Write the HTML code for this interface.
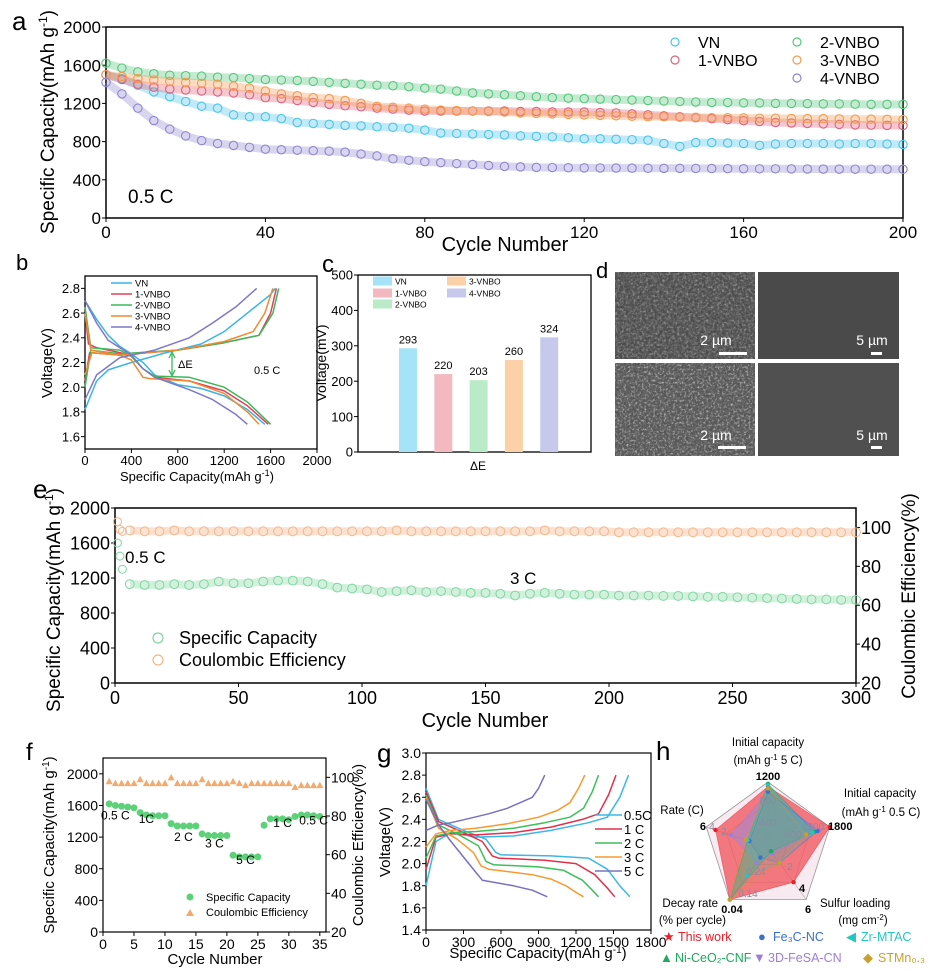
<!DOCTYPE html>
<html><head><meta charset="utf-8">
<style>
html,body{margin:0;padding:0;background:#fff;}
svg{display:block;font-family:"Liberation Sans",Arial,sans-serif;}
</style></head>
<body>
<svg id="fig" width="938" height="972" viewBox="0 0 938 972" xmlns="http://www.w3.org/2000/svg">
<defs>
<filter id="sem1" x="0" y="0" width="100%" height="100%"><feTurbulence type="fractalNoise" baseFrequency="0.35" numOctaves="3" seed="3"/><feColorMatrix type="matrix" values="0 0 0 0 0.2  0 0 0 0 0.2  0 0 0 0 0.2  0 0 0 1.6 -0.55"/></filter>
<filter id="sem2" x="0" y="0" width="100%" height="100%"><feTurbulence type="fractalNoise" baseFrequency="0.45" numOctaves="3" seed="7"/><feColorMatrix type="matrix" values="0 0 0 0 0.75  0 0 0 0 0.75  0 0 0 0 0.75  0 0 0 2.2 -1.1"/></filter>
</defs>

<!-- Panel a -->
<g>
<text x="12" y="30" font-size="26">a</text>
<rect x="106" y="27" width="797" height="191" fill="none" stroke="#000" stroke-width="1.5"/>
<g id="a-ticks"></g>
<text x="505" y="251" font-size="20" text-anchor="middle">Cycle Number</text>
<text transform="translate(54,122) rotate(-90)" font-size="19" text-anchor="middle">Specific Capacity(mAh g<tspan font-size="12" dy="-7">-1</tspan><tspan dy="7">)</tspan></text>
<text x="128" y="203" font-size="19">0.5 C</text>
<g id="a-series"></g>
<g id="a-legend"></g>
</g>

<!-- Panel b -->
<g>
<text x="16" y="270" font-size="22">b</text>
<rect x="85" y="276" width="232" height="173" fill="none" stroke="#000" stroke-width="1.3"/>
<g id="b-ticks"></g>
<g id="b-series"></g>
<g id="b-legend"></g>
<text x="197" y="481" font-size="13" text-anchor="middle">Specific Capacity(mAh g<tspan font-size="9" dy="-5">-1</tspan><tspan dy="5">)</tspan></text>
<text transform="translate(52,363) rotate(-90)" font-size="15" text-anchor="middle">Voltage(V)</text>
<line x1="172" y1="354" x2="172" y2="374" stroke="#3cb85a" stroke-width="1.3"/>
<path d="M169,358 L172,352 L175,358 M169,370 L172,376 L175,370" fill="none" stroke="#3cb85a" stroke-width="1.3"/>
<text x="178" y="368" font-size="11">ΔE</text>
<text x="254" y="374" font-size="11">0.5 C</text>
</g>

<!-- Panel c -->
<g>
<text x="322" y="272" font-size="24">c</text>
<rect x="358" y="275" width="233" height="177" fill="none" stroke="#000" stroke-width="1.3"/>
<g id="c-ticks"></g>
<g id="c-bars"></g>
<g id="c-legend"></g>
<text transform="translate(326,363) rotate(-90)" font-size="14" text-anchor="middle">Voltage(mV)</text>
<text x="478" y="470" font-size="12" text-anchor="middle">ΔE</text>
</g>

<!-- Panel d -->
<g>
<text x="596" y="278" font-size="22">d</text>
<rect x="615" y="272" width="140" height="87" fill="#4b4b4b"/>
<rect x="615" y="272" width="140" height="87" filter="url(#sem1)" opacity="0.9"/>
<rect x="615" y="272" width="140" height="87" filter="url(#sem2)" opacity="0.55"/>
<rect x="758" y="272" width="141" height="87" fill="#4a4a4a"/>
<rect x="615" y="363" width="140" height="93" fill="#555"/>
<rect x="615" y="363" width="140" height="93" filter="url(#sem1)" opacity="0.8"/>
<rect x="615" y="363" width="140" height="93" filter="url(#sem2)" opacity="0.85"/>
<rect x="758" y="363" width="141" height="93" fill="#505050"/>
<text x="716" y="345" font-size="14" fill="#fff" text-anchor="middle">2 µm</text>
<rect x="719" y="352" width="28" height="3" fill="#fff"/>
<text x="872" y="345" font-size="14" fill="#fff" text-anchor="middle">5 µm</text>
<rect x="871" y="352" width="11" height="3" fill="#fff"/>
<text x="716" y="440" font-size="14" fill="#fff" text-anchor="middle">2 µm</text>
<rect x="718" y="446" width="28" height="3" fill="#fff"/>
<text x="872" y="440" font-size="14" fill="#fff" text-anchor="middle">5 µm</text>
<rect x="871" y="446" width="11" height="3" fill="#fff"/>
</g>

<!-- Panel e -->
<g>
<text x="33" y="498" font-size="26">e</text>
<rect x="115" y="508" width="741" height="175" fill="none" stroke="#000" stroke-width="1.5"/>
<g id="e-ticks"></g>
<g id="e-series"></g>
<text x="485" y="727" font-size="20" text-anchor="middle">Cycle Number</text>
<text transform="translate(60,600) rotate(-90)" font-size="19" text-anchor="middle">Specific Capacity(mAh g<tspan font-size="12" dy="-7">-1</tspan><tspan dy="7">)</tspan></text>
<text transform="translate(915,596) rotate(-90)" font-size="19" text-anchor="middle">Coulombic Efficiency(%)</text>
<text x="125" y="563" font-size="17">0.5 C</text>
<text x="510" y="584" font-size="17">3 C</text>
<circle cx="158" cy="638" r="5" fill="none" stroke="#7fd6a0" stroke-width="1.2"/>
<text x="179" y="644" font-size="18">Specific Capacity</text>
<circle cx="158" cy="660" r="5" fill="none" stroke="#f5b58a" stroke-width="1.2"/>
<text x="179" y="666" font-size="18">Coulombic Efficiency</text>
</g>

<!-- Panel f -->
<g>
<text x="26" y="760" font-size="24">f</text>
<rect x="103" y="758" width="223" height="174" fill="none" stroke="#000" stroke-width="1.2"/>
<g id="f-ticks"></g>
<g id="f-series"></g>
<text x="215" y="964" font-size="15" text-anchor="middle">Cycle Number</text>
<text transform="translate(54,845) rotate(-90)" font-size="15" text-anchor="middle">Specific Capacity(mAh g<tspan font-size="10" dy="-5">-1</tspan><tspan dy="5">)</tspan></text>
<text transform="translate(363,845) rotate(-90)" font-size="15" text-anchor="middle">Coulombic Efficiency(%)</text>
<circle cx="190" cy="897" r="3.5" fill="#5fd07a"/>
<text x="206" y="901" font-size="11">Specific Capacity</text>
<path d="M186,916 L190,909 L194,916 Z" fill="#f4a96d"/>
<text x="206" y="916" font-size="11">Coulombic Efficiency</text>
</g>

<!-- Panel g -->
<g>
<text x="377" y="762" font-size="26">g</text>
<rect x="426" y="753" width="225" height="177" fill="none" stroke="#000" stroke-width="1.2"/>
<g id="g-ticks"></g>
<g id="g-series"></g>
<g id="g-legend"></g>
<text x="538" y="958" font-size="15" text-anchor="middle">Specific Capacity(mAh g<tspan font-size="10" dy="-5">-1</tspan><tspan dy="5">)</tspan></text>
<text transform="translate(390,842) rotate(-90)" font-size="15" text-anchor="middle">Voltage(V)</text>
</g>

<!-- Panel h -->
<g>
<text x="656" y="760" font-size="26">h</text>
<g id="h-radar"></g>
<text x="768" y="746" font-size="11.5" text-anchor="middle">Initial capacity</text>
<text x="768" y="764" font-size="11.5" text-anchor="middle">(mAh g<tspan font-size="8" dy="-4">-1</tspan><tspan dy="4"> 5 C)</tspan></text>
<text x="880" y="797" font-size="11.5" text-anchor="middle">Initial capacity</text>
<text x="881" y="816" font-size="11.5" text-anchor="middle">(mAh g<tspan font-size="8" dy="-4">-1</tspan><tspan dy="4"> 0.5 C)</tspan></text>
<text x="682" y="814" font-size="11.5" text-anchor="middle">Rate (C)</text>
<text x="718" y="907" font-size="11.5" text-anchor="end">Decay rate</text>
<text x="726" y="924" font-size="11.5" text-anchor="end">(% per cycle)</text>
<text x="820" y="907" font-size="11.5">Sulfur loading</text>
<text x="863" y="924" font-size="11.5" text-anchor="middle">(mg cm<tspan font-size="8" dy="-4">-2</tspan><tspan dy="4">)</tspan></text>
<g id="h-legend"></g>
</g>
</svg>

<script>
// ---------- DATA ----------
const aStep = 4;
const aVN   = [1500,1460,1390,1320,1270,1220,1170,1150,1080,1060,1060,1040,1000,990,980,970,965,955,950,940,920,890,885,880,875,870,860,855,850,840,830,830,825,820,815,780,750,790,790,785,780,760,775,780,780,780,775,780,780,775,770];
const a1VNBO= [1500,1450,1400,1370,1350,1340,1330,1320,1310,1290,1260,1250,1230,1210,1190,1175,1165,1150,1140,1130,1120,1120,1120,1120,1120,1120,1115,1115,1110,1110,1110,1105,1100,1090,1080,1070,1060,1050,1040,1030,1020,1010,1000,995,990,985,980,975,972,970,968];
const a2VNBO= [1620,1570,1530,1510,1495,1490,1485,1475,1470,1460,1450,1445,1440,1430,1420,1410,1400,1390,1385,1375,1360,1350,1330,1310,1300,1290,1280,1270,1260,1255,1250,1245,1240,1235,1230,1225,1220,1215,1210,1210,1205,1205,1200,1200,1198,1195,1195,1192,1190,1190,1190];
const a3VNBO= [1500,1480,1460,1445,1430,1420,1410,1400,1380,1360,1330,1300,1280,1260,1250,1230,1200,1170,1160,1150,1140,1130,1125,1120,1115,1110,1100,1095,1090,1085,1080,1075,1070,1065,1060,1060,1055,1055,1050,1050,1048,1045,1045,1042,1040,1040,1038,1035,1035,1033,1030];
const a4VNBO= [1420,1300,1150,1020,930,860,810,780,760,740,720,715,710,705,700,690,670,650,620,605,590,580,570,560,550,540,535,530,528,526,525,524,523,522,521,520,520,519,518,517,516,515,515,514,513,512,512,511,511,510,510];
const aNames = ["VN","1-VNBO","2-VNBO","3-VNBO","4-VNBO"];
const aXTicks = [0,40,80,120,160,200];
const aYTicks = [0,400,800,1200,1600,2000];

const bNames = ["VN","1-VNBO","2-VNBO","3-VNBO","4-VNBO"];
const bDisCap = [[0,100,200,300,400,500,600,800,1000,1200,1400,1550],[0,30,100,300,400,500,600,900,1200,1400,1580],[0,50,300,400,500,600,900,1200,1400,1600],[0,50,300,400,500,560,900,1200,1400,1500],[0,100,200,400,500,600,900,1100,1300,1400]];
const bDisV   = [[2.7,2.55,2.42,2.33,2.27,2.2,2.1,2.02,1.99,1.93,1.82,1.7],[2.6,2.35,2.32,2.28,2.25,2.15,2.08,2.05,1.97,1.85,1.7],[2.65,2.32,2.3,2.25,2.15,2.09,2.08,2.0,1.88,1.7],[2.6,2.3,2.26,2.22,2.08,2.07,2.05,1.95,1.8,1.7],[2.7,2.52,2.38,2.26,2.15,2.08,1.98,1.9,1.78,1.7]];
const bChCap  = [[0,100,200,400,700,1000,1200,1400,1600,1640],[0,40,300,800,1200,1500,1600,1650],[0,50,300,800,1200,1500,1620,1670],[0,60,300,800,1200,1450,1550,1620],[0,100,300,600,900,1100,1300,1480]];
const bChV    = [[1.82,2.05,2.14,2.2,2.28,2.35,2.45,2.6,2.75,2.8],[2.05,2.28,2.26,2.3,2.36,2.42,2.6,2.8],[2.0,2.3,2.27,2.3,2.36,2.42,2.6,2.8],[2.1,2.28,2.26,2.3,2.37,2.45,2.6,2.8],[1.9,2.1,2.24,2.3,2.4,2.52,2.65,2.8]];
const bXTicks = [0,400,800,1200,1600,2000];
const bYTicks = [1.6,1.8,2.0,2.2,2.4,2.6,2.8];

const cCats = ["VN","1-VNBO","2-VNBO","3-VNBO","4-VNBO"];
const cVals = [293,220,203,260,324];
const cYTicks = [0,100,200,300,400,500];

const eEarlyCyc = [1,2,3];
const eEarlyCap = [1600,1450,1300];
const eStep = 6;
const eCap = [1130,1120,1120,1130,1120,1130,1160,1140,1140,1160,1170,1170,1160,1130,1090,1080,1070,1040,1050,1060,1040,1050,1040,1030,1030,1020,1000,1020,1030,1020,1010,1010,1010,1000,1000,1000,995,995,990,985,985,980,975,970,965,960,955,955,950,950];
const eCE  = [98.5,98,98,98.5,98,98,98,98,98,98,98,98,98,98,98,98,98,98,98.5,98,98,98,98,98,98,98,98,98,98.5,98,98,98,98,97.5,97.5,97.5,97.5,97.5,97.5,97.5,97.5,97.5,97.5,97.5,97.5,97.5,97.5,97.5,97.5,97.5];
const eCEEarly = [103,99,98];
const eXTicks = [0,50,100,150,200,250,300];
const eYTicks = [0,400,800,1200,1600,2000];
const eY2Ticks = [20,40,60,80,100];

const fCap = [1620,1600,1590,1580,1570,1510,1480,1470,1470,1470,1370,1340,1340,1340,1340,1240,1220,1220,1220,1220,970,950,950,950,950,1350,1430,1430,1430,1420,1460,1480,1480,1470,1460];
const fCE  = [98,97,97,97,97,99,97,97,97,97,100,97,97,97,97,99,97,97,97,97,98,97,96,97,97,97,97,97,97,97,95,96,96,96,96];
const fRateLabels = ["0.5 C","1C","2 C","3 C","5 C","1 C","0.5 C"];
const fRateCycle  = [2,7,13,18,23,29,34];
const fRateValue  = [1420,1380,1150,1070,860,1330,1360];
const fXTicks = [0,5,10,15,20,25,30,35];
const fYTicks = [0,400,800,1200,1600,2000];
const fY2Ticks = [20,40,60,80,100];

const gNames = ["0.5C","1 C","2 C","3 C","5 C"];
const gDisCap = [[0,100,300,480,560,600,1000,1300,1450,1550,1630],[0,100,300,450,530,580,950,1200,1350,1450,1510],[0,100,280,420,480,540,900,1100,1250,1330,1380],[0,100,250,380,440,500,850,1000,1120,1200,1260],[0,100,200,300,400,450,700,850,970]];
const gDisV   = [[2.68,2.4,2.3,2.22,2.1,2.08,2.07,2.05,1.95,1.8,1.7],[2.65,2.38,2.28,2.2,2.07,2.05,2.03,2.0,1.9,1.78,1.7],[2.62,2.35,2.25,2.16,2.02,1.99,1.97,1.94,1.85,1.76,1.7],[2.6,2.32,2.22,2.1,1.98,1.95,1.9,1.86,1.8,1.74,1.7],[2.58,2.35,2.2,2.06,1.92,1.85,1.8,1.76,1.7]];
const gChCap  = [[0,80,200,400,700,1000,1300,1450,1550,1620],[0,80,200,400,700,1000,1250,1380,1460,1520],[0,80,200,400,700,950,1150,1260,1330,1380],[0,80,200,400,650,900,1050,1150,1220,1270],[0,100,200,350,500,650,750,850,900,950]];
const gChV    = [[1.8,2.2,2.28,2.24,2.25,2.3,2.37,2.42,2.6,2.8],[1.95,2.24,2.27,2.26,2.28,2.33,2.4,2.45,2.62,2.8],[2.05,2.25,2.28,2.29,2.32,2.37,2.42,2.5,2.65,2.8],[2.15,2.27,2.3,2.32,2.36,2.42,2.48,2.55,2.68,2.8],[2.3,2.35,2.37,2.41,2.45,2.5,2.55,2.6,2.68,2.8]];
const gXTicks = [0,300,600,900,1200,1500,1800];
const gYTicks = [1.4,1.6,1.8,2.0,2.2,2.4,2.6,2.8,3.0];

const hSeriesNames = ["This work","3D-FeSA-CN","Ni-CeO2-CNF","Fe3C-NC","Zr-MTAC","STMn0.3"];
const hThis  = [0.93,1.0,0.67,1.0,0.85];
const hFeSA  = [0.85,0.82,0.12,0.3,0.6];
const hNiCeO = [0.97,0.75,0.08,1.0,0.33];
const hFe3C  = [0.85,0.8,0.3,0.2,0.3];
const hZr    = [0.95,0.72,0.3,0.55,0.33];
const hSTMn  = [0.9,0.62,0.3,1.0,0.36];

// ---------- HELPERS ----------
const NS = "http://www.w3.org/2000/svg";
function mk(tag, attrs, parent){ const e=document.createElementNS(NS,tag); for(const k in attrs) e.setAttribute(k,attrs[k]); parent.appendChild(e); return e; }
function lin(d0,d1,r0,r1){ return v => r0+(v-d0)/(d1-d0)*(r1-r0); }
const $ = id => document.getElementById(id);

function axisTicks(g, xs, xScale, yTop, yBot, ys, yScale, xL, xR, fs, fmtX, fmtY, y2){
  xs.forEach(v=>{
    const x=xScale(v);
    let t=mk("line",{x1:x,y1:yBot,x2:x,y2:yBot+4,stroke:"#000","stroke-width":1},g);
    
    
    let l=mk("text",{x:x,y:yBot+fs+3,"font-size":fs,"text-anchor":"middle"},g);
    l.textContent=fmtX(v);
    
    
  });
  ys.forEach(v=>{
    const y=yScale(v);
    let t=mk("line",{x1:xL-4,y1:y,x2:xL,y2:y,stroke:"#000","stroke-width":1},g);
    
    
    let l=mk("text",{x:xL-5,y:y+fs*0.36,"font-size":fs,"text-anchor":"end"},g);
    l.textContent=fmtY(v);
    
    
  });
  if(y2){
    y2.ticks.forEach(v=>{
      const y=y2.scale(v);
      let t=mk("line",{x1:xR,y1:y,x2:xR+4,y2:y,stroke:"#000","stroke-width":1},g);
      
      
      let l=mk("text",{x:xR+5,y:y+fs*0.36,"font-size":fs},g);
      l.textContent=v;
      
      
    });
  }
}
function pathD(xsArr, ysArr, X, Y){ return xsArr.map((c,i)=>(i?"L":"M")+X(c).toFixed(1)+","+Y(ysArr[i]).toFixed(1)).join(" "); }
const id = v=>String(v);

// ---------- PANEL A ----------
(function(){
  const X=lin(0,200,106,903), Y=lin(0,2000,218,27);
  axisTicks($("a-ticks"),aXTicks,X,27,218,aYTicks,Y,106,903,17,id,id);
  const series=[aVN,a1VNBO,a2VNBO,a3VNBO,a4VNBO];
  const cols=["#4cc3ea","#e0607a","#55c77a","#f39a50","#8f86cf"];
  const g=$("a-series");
  series.forEach((s,k)=>{
    const cyc=s.map((v,i)=>i*aStep);
    let band=mk("path",{d:pathD(cyc,s,X,Y),fill:"none",stroke:cols[k],"stroke-width":8,"stroke-opacity":0.35,"stroke-linejoin":"round"},g);
    
    
    s.forEach((v,i)=>{
      let c=mk("circle",{cx:X(i*aStep),cy:Y(v),r:4.2,fill:"none",stroke:cols[k],"stroke-width":1.1},g);
      
      
    });
  });
  const lg=$("a-legend");
  const pos=[[675,42],[675,60],[797,42],[797,60],[797,78]];
  [0,1,2,3,4].forEach((k,i)=>{
    const [x,y]=pos[i];
    let c=mk("circle",{cx:x,cy:y,r:4,fill:"none",stroke:cols[k],"stroke-width":1.2},lg);
    
    
    let t=mk("text",{x:x+23,y:y+6,"font-size":16},lg);
    t.textContent=aNames[k];
    
    
  });
})();

// ---------- PANEL B ----------
(function(){
  const X=lin(0,2000,85,317), Y=lin(1.5,2.9,449,276);
  axisTicks($("b-ticks"),bXTicks,X,276,449,bYTicks,Y,85,317,13,id,v=>v.toFixed(1));
  const cols=["#3ab4e8","#e0405a","#3cb85a","#f08a30","#7f78c8"];
  const g=$("b-series");
  bNames.forEach((n,k)=>{
    let d=mk("path",{d:pathD(bDisCap[k],bDisV[k],X,Y),fill:"none",stroke:cols[k],"stroke-width":1.5,"stroke-linejoin":"round"},g);
    
    
    let c=mk("path",{d:pathD(bChCap[k],bChV[k],X,Y),fill:"none",stroke:cols[k],"stroke-width":1.5,"stroke-linejoin":"round"},g);
    
    
  });
  const lg=$("b-legend");
  bNames.forEach((n,k)=>{
    const y=283+k*11;
    let l=mk("line",{x1:111,y1:y,x2:132,y2:y,stroke:cols[k],"stroke-width":1.6},lg);
    
    
    let t=mk("text",{x:135,y:y+3.5,"font-size":9.5},lg);
    t.textContent=n;
    
    
  });
})();

// ---------- PANEL C ----------
(function(){
  const Y=lin(0,500,452,275);
  const band=35.3, x0=408;
  axisTicks($("c-ticks"),[],v=>v,275,452,cYTicks,Y,358,591,13,id,id);
  const cols=["#a4e3f8","#f3b8c0","#b9ecc6","#fcd1a8","#c7c9ec"];
  const bg=$("c-bars");
  cVals.forEach((v,i)=>{
    const cx=x0+i*band;
    let r=mk("rect",{x:cx-9,y:Y(v),width:18,height:452-Y(v),fill:cols[i]},bg);
    
    
    let t=mk("text",{x:cx,y:Y(v)-5,"font-size":11,"text-anchor":"middle"},bg);
    t.textContent=v;
    
    
  });
  const lg=$("c-legend");
  const pos=[[373,281],[373,293],[373,304],[447,281],[447,293]];
  cCats.forEach((n,i)=>{
    const [x,y]=pos[i];
    let r=mk("rect",{x:x,y:y-4.5,width:19,height:9,fill:cols[i]},lg);
    
    
    let t=mk("text",{x:x+22,y:y+3.5,"font-size":8.5},lg);
    t.textContent=n;
    
    
  });
})();

// ---------- PANEL E ----------
(function(){
  const X=lin(0,300,115,856), YL=lin(0,2000,683,508), YR=lin(20,110,683,508);
  axisTicks($("e-ticks"),eXTicks,X,508,683,eYTicks,YL,115,856,18,id,id,{ticks:eY2Ticks,scale:YR});
  const g=$("e-series");
  const capCyc=eCap.map((v,i)=>(i+1)*eStep);
  const ceCyc=eCE.map((v,i)=>(i+1)*eStep);
  let b1=mk("path",{d:pathD(capCyc,eCap,X,YL),fill:"none",stroke:"#8fdcaa","stroke-width":8,"stroke-opacity":0.4},g);
  
  
  let b2=mk("path",{d:pathD(ceCyc,eCE,X,YR),fill:"none",stroke:"#f5b58a","stroke-width":8,"stroke-opacity":0.4},g);
  
  
  eEarlyCap.forEach((v,i)=>{
    let c=mk("circle",{cx:X(eEarlyCyc[i]),cy:YL(v),r:4,fill:"none",stroke:"#7fd6a0","stroke-width":1},g);
    
    
  });
  eCEEarly.forEach((v,i)=>{
    let c=mk("circle",{cx:X(eEarlyCyc[i]),cy:YR(v),r:4,fill:"none",stroke:"#f5b58a","stroke-width":1},g);
    
    
  });
  eCap.forEach((v,i)=>{
    let c=mk("circle",{cx:X(capCyc[i]),cy:YL(v),r:4.4,fill:"none",stroke:"#7fd6a0","stroke-width":1},g);
    
    
  });
  eCE.forEach((v,i)=>{
    let c=mk("circle",{cx:X(ceCyc[i]),cy:YR(v),r:4.4,fill:"none",stroke:"#f5b58a","stroke-width":1},g);
    
    
  });
})();

// ---------- PANEL F ----------
(function(){
  const X=lin(0,36,103,326), YL=lin(0,2200,932,758), YR=lin(20,110,932,758);
  axisTicks($("f-ticks"),fXTicks,X,758,932,fYTicks,YL,103,326,14,id,id,{ticks:fY2Ticks,scale:YR});
  const g=$("f-series");
  fCE.forEach((v,i)=>{
    const x=X(i+1), y=YR(v);
    let p=mk("path",{d:`M${x-3.5},${y+3} L${x},${y-3.5} L${x+3.5},${y+3} Z`,fill:"#f4a96d"},g);
    
    
  });
  fCap.forEach((v,i)=>{
    let c=mk("circle",{cx:X(i+1),cy:YL(v),r:3.5,fill:"#5fd07a"},g);
    
    
  });
  fRateLabels.forEach((s,i)=>{
    let t=mk("text",{x:X(fRateCycle[i]),y:YL(fRateValue[i]),"font-size":12,"text-anchor":"middle"},g);
    t.textContent=s;
    
    
  });
})();

// ---------- PANEL G ----------
(function(){
  const X=lin(0,1800,426,651), Y=lin(1.4,3.0,930,753);
  axisTicks($("g-ticks"),gXTicks,X,753,930,gYTicks,Y,426,651,14,id,v=>v.toFixed(1));
  const cols=["#3ab8e8","#e0304a","#3cbf5a","#f59a30","#7a70c0"];
  const g=$("g-series");
  gNames.forEach((n,k)=>{
    let d=mk("path",{d:pathD(gDisCap[k],gDisV[k],X,Y),fill:"none",stroke:cols[k],"stroke-width":1.5,"stroke-linejoin":"round"},g);
    
    
    let c=mk("path",{d:pathD(gChCap[k],gChV[k],X,Y),fill:"none",stroke:cols[k],"stroke-width":1.5,"stroke-linejoin":"round"},g);
    
    
  });
  const lg=$("g-legend");
  gNames.forEach((n,k)=>{
    const y=815+k*14;
    let l=mk("line",{x1:595,y1:y,x2:622,y2:y,stroke:cols[k],"stroke-width":1.6},lg);
    
    
    let t=mk("text",{x:624,y:y+5,"font-size":13},lg);
    t.textContent=n;
    
    
  });
})();

// ---------- PANEL H ----------
(function(){
  const cx=768, cy=847, R=65;
  const ang=i=>(-90+72*i)*Math.PI/180;
  const pt=(i,f)=>[cx+R*f*Math.cos(ang(i)), cy+R*f*Math.sin(ang(i))];
  const poly=(vals)=>vals.map((f,i)=>pt(i,f).map(v=>v.toFixed(1)).join(",")).join(" ");
  const g=$("h-radar");
  let bgp=mk("polygon",{points:poly([1,1,1,1,1]),fill:"#f7eaf0",stroke:"#999","stroke-width":0.8},g);
  
  
  [0.67,0.33].forEach(f=>{
    let r=mk("polygon",{points:poly([f,f,f,f,f]),fill:"none",stroke:"#aaa","stroke-width":0.6},g);
    
    
  });
  for(let i=0;i<5;i++){
    const [x,y]=pt(i,1);
    let s=mk("line",{x1:cx,y1:cy,x2:x,y2:y,stroke:"#aaa","stroke-width":0.6},g);
    
    
  }
  const series=[hThis,hFeSA,hNiCeO,hFe3C,hZr,hSTMn];
  const fills=["rgba(240,80,90,0.75)","rgba(150,140,225,0.5)","rgba(60,180,140,0.5)","rgba(80,120,210,0.15)","rgba(40,200,200,0.15)","rgba(200,170,60,0.1)"];
  const mcol=["#e8202a","#9a7fd8","#1ea860","#3a70d0","#20c8c0","#c9a030"];
  series.forEach((s,k)=>{
    let p=mk("polygon",{points:poly(s),fill:fills[k],stroke:mcol[k],"stroke-width":0.6,"stroke-opacity":0.6},g);
    
    
  });
  series.forEach((s,k)=>{
    s.forEach((f,i)=>{
      const [x,y]=pt(i,f);
      let c=mk("circle",{cx:x,cy:y,r:2.2,fill:mcol[k]},g);
      
      
    });
  });
  const grey=[["800",768,804],["400",768,826],["1200",813,830],["600",793,838],["0.24",756,875],["0.14",748,897],["2",790,870],["4",712,830],["2",724,835]];
  grey.forEach(a=>{
    let t=mk("text",{x:a[1],y:a[2],"font-size":10,fill:"#8a8aa0","text-anchor":"middle"},g);
    t.textContent=a[0];
    
    
  });
  const bold=[["1200",768,780,"middle"],["1800",828,830,"start"],["6",706,830,"end"],["0.04",732,913,"middle"],["6",808,913,"middle"],["4",802,892,"middle"]];
  bold.forEach(a=>{
    let t=mk("text",{x:a[1],y:a[2],"font-size":11,"font-weight":"bold","text-anchor":a[3]},g);
    t.textContent=a[0];
    
    
  });
  const lg=$("h-legend");
  const items=[["★","This work","#e8202a",663,941],["●","Fe₃C-NC","#3a70d0",758,941],["◀","Zr-MTAC","#20c8c0",846,941],["▲","Ni-CeO₂-CNF","#1ea860",660,962],["▼","3D-FeSA-CN","#9a7fd8",753,962],["◆","STMn₀.₃","#c9a030",863,962]];
  items.forEach(a=>{
    let m=mk("text",{x:a[3],y:a[4],"font-size":13,fill:a[2]},lg);
    m.textContent=a[0];
    
    
    let t=mk("text",{x:a[3]+15,y:a[4],"font-size":12.5,fill:a[2]},lg);
    t.textContent=a[1];
    
    
  });
})();
</script>
</body></html>
